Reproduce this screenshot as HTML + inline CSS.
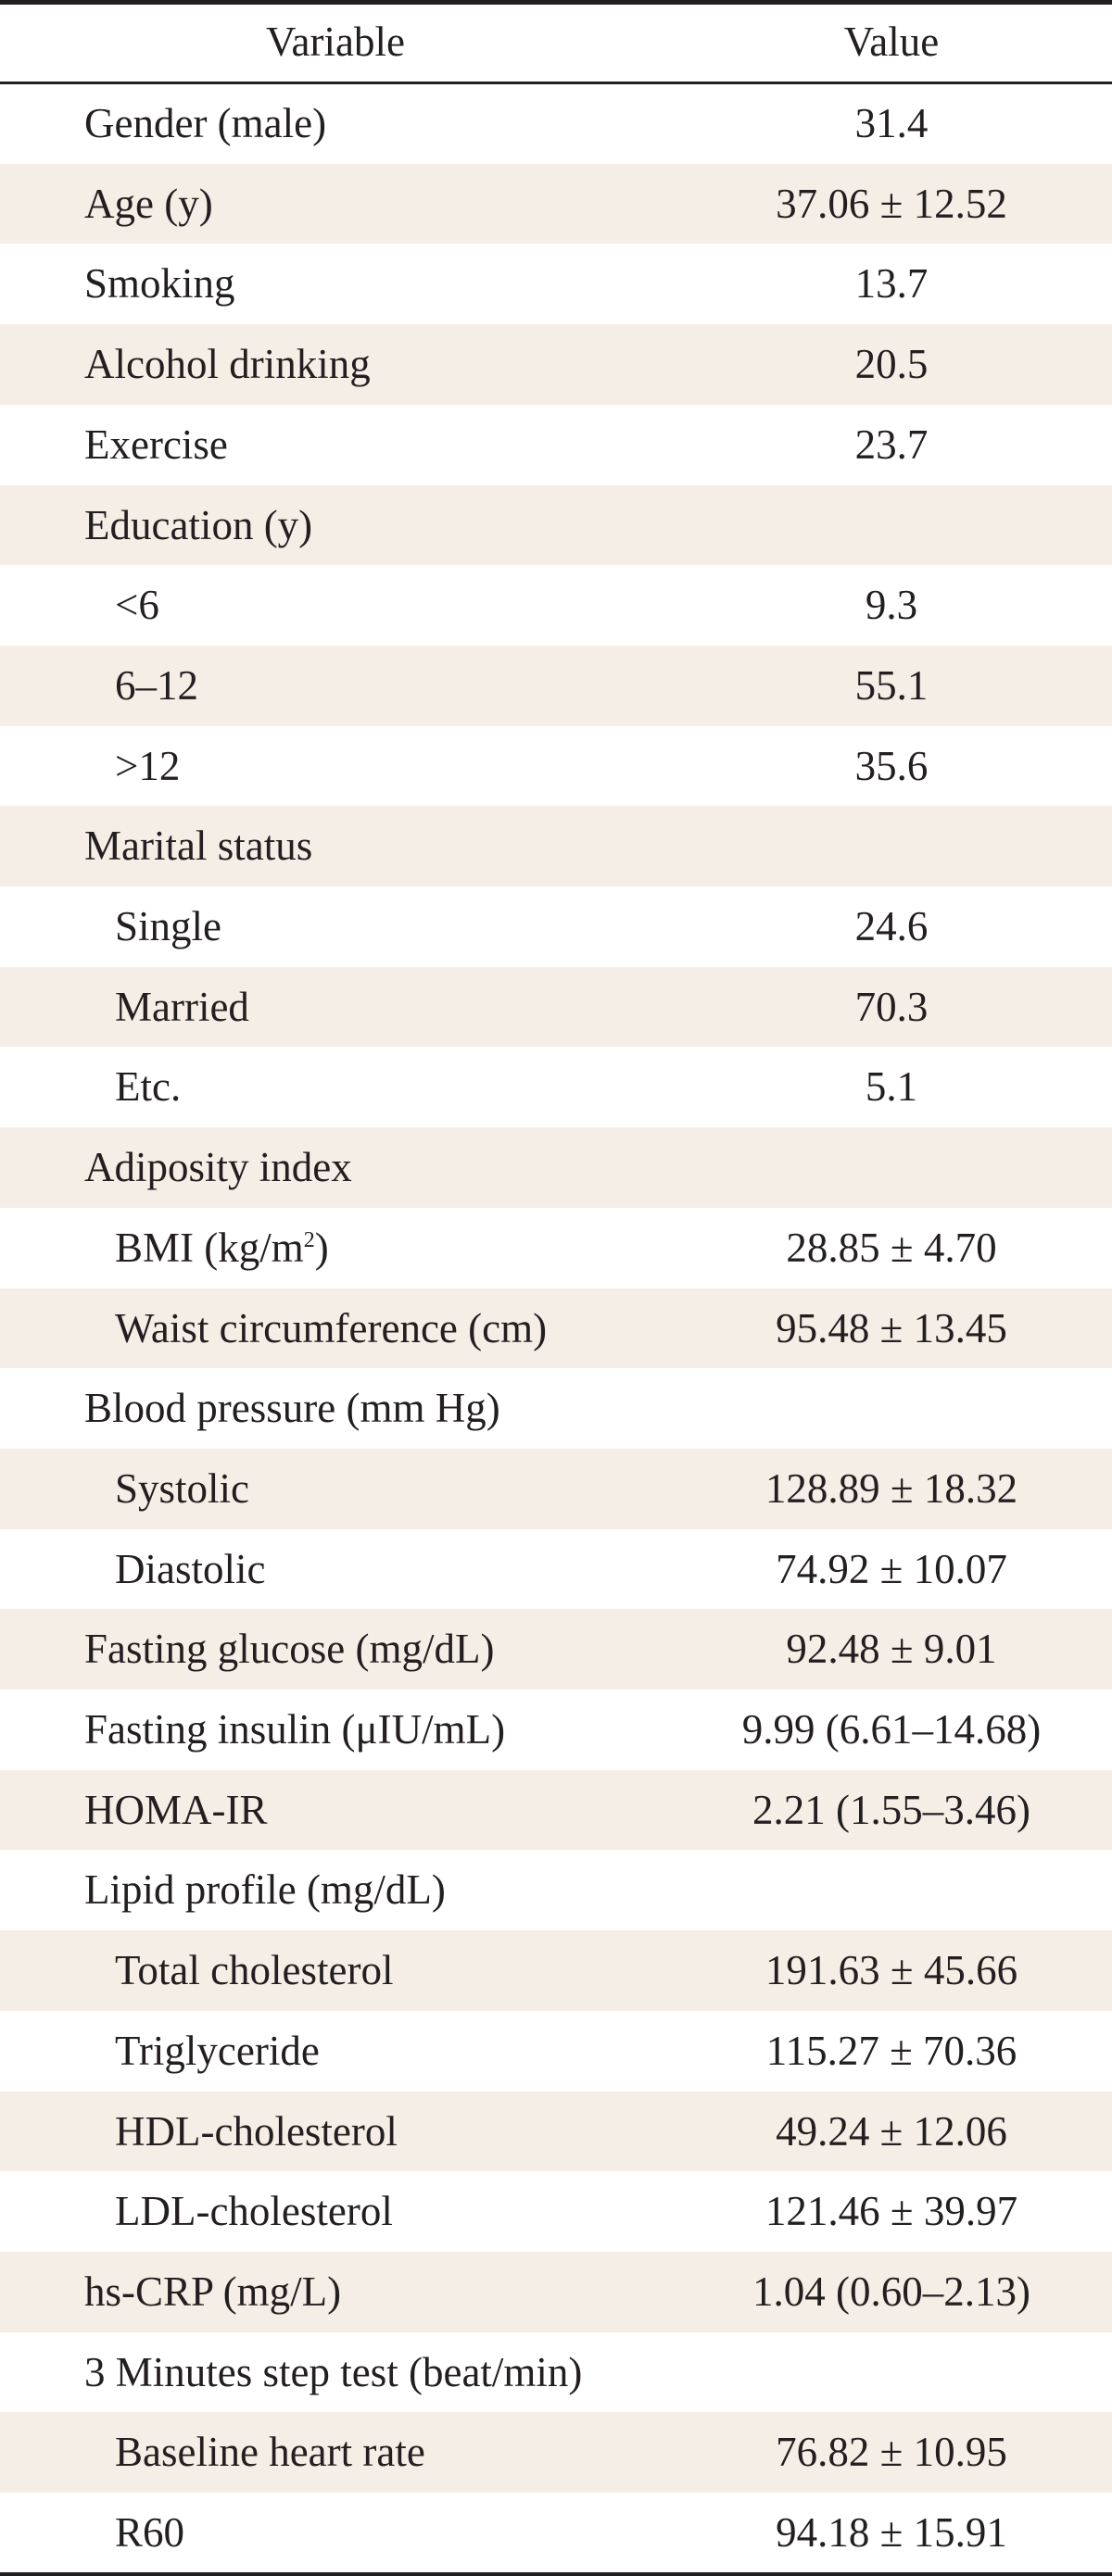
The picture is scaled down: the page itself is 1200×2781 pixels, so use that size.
<!DOCTYPE html>
<html><head><meta charset="utf-8"><style>
body{margin:0;width:1200px;height:2781px;background:#fff;position:relative;overflow:hidden;font-family:"Liberation Serif",serif;color:#231f20}
.b{position:absolute;left:0;width:1200px;background:#231f20}
.row{position:absolute;left:0;width:1200px;height:86.7px}
.row.s{background:#f5eee7}
.v{position:absolute;top:0;line-height:86.7px;font-size:45px;letter-spacing:0px;white-space:nowrap}
.val{position:absolute;top:0;line-height:86.7px;font-size:45px;letter-spacing:0px;left:962px;transform:translateX(-50%);white-space:nowrap}
sup{font-size:24px;line-height:0}
</style></head><body>
<div class="b" style="top:0;height:5px"></div>
<div class="v" style="left:362px;transform:translateX(-50%);top:2px;line-height:86px">Variable</div>
<div class="val" style="top:2px;line-height:86px">Value</div>
<div class="b" style="top:88px;height:2.5px"></div>
<div id="rows"></div>
<div class="b" style="top:2777px;height:4px"></div>
<script>
const labels=["Gender (male)","Age (y)","Smoking","Alcohol drinking","Exercise","Education (y)","<6","6–12",">12","Marital status","Single","Married","Etc.","Adiposity index","BMI (kg/m<sup>2</sup>)","Waist circumference (cm)","Blood pressure (mm Hg)","Systolic","Diastolic","Fasting glucose (mg/dL)","Fasting insulin (μIU/mL)","HOMA-IR","Lipid profile (mg/dL)","Total cholesterol","Triglyceride","HDL-cholesterol","LDL-cholesterol","hs-CRP (mg/L)","3 Minutes step test (beat/min)","Baseline heart rate","R60"];
const values=["31.4","37.06 ± 12.52","13.7","20.5","23.7","","9.3","55.1","35.6","","24.6","70.3","5.1","","28.85 ± 4.70","95.48 ± 13.45","","128.89 ± 18.32","74.92 ± 10.07","92.48 ± 9.01","9.99 (6.61–14.68)","2.21 (1.55–3.46)","","191.63 ± 45.66","115.27 ± 70.36","49.24 ± 12.06","121.46 ± 39.97","1.04 (0.60–2.13)","","76.82 ± 10.95","94.18 ± 15.91"];
const indent=[0,0,0,0,0,0,1,1,1,0,1,1,1,0,1,1,0,1,1,0,0,0,0,1,1,1,1,0,0,1,1];
const c=document.getElementById('rows');
labels.forEach((l,i)=>{
 const r=document.createElement('div');
 r.className='row'+(i%2?' s':'');
 r.style.top=(90+i*86.7)+'px';
 
 
 const a=document.createElement('div');a.className='v';a.style.left=(indent[i]?124:91)+'px';a.innerHTML=l.replace('<6','&lt;6').replace('>12','&gt;12');
 
 
 const b=document.createElement('div');b.className='val';b.textContent=values[i];
 
 
 r.appendChild(a);r.appendChild(b);c.appendChild(r);
});
</script>
</body></html>
